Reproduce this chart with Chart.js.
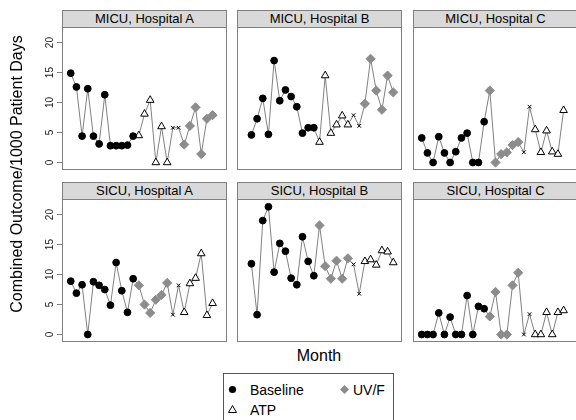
<!DOCTYPE html>
<html>
<head>
<meta charset="utf-8">
<script src="https://cdn.jsdelivr.net/npm/chart.js@4.4.1/dist/chart.umd.min.js"></script>
<style>
html,body{margin:0;padding:0;background:#fff;width:576px;height:420px;overflow:hidden;font-family:"Liberation Sans",Arial,sans-serif;}
.abs{position:absolute;}
.strip{position:absolute;background:#d9d9d9;border:1px solid #7f7f7f;box-sizing:border-box;text-align:center;font-size:13px;line-height:16px;color:#000;white-space:nowrap;}
.lbl{position:absolute;font-size:14px;line-height:16px;color:#000;white-space:nowrap;}
</style>
</head>
<body>
<script>
// ---- data ----
const monthsAC = [1,2,3,4,5,6,7,8,9,10,11,12,13,14,15,16,17,18,19,20,21,22,23,24,25,26];
const monthsB  = [2,3,4,5,6,7,8,9,10,11,12,13,14,15,16,17,18,19,20,21,22,23,24,25,26,27];
const phaseSizes = [12, 6, 2, 6];
const yTicks = [0, 5, 10, 15, 20];

const micuA = [14.9,12.6,4.4,12.3,4.4,3.1,11.3,2.8,2.8,2.8,2.9,4.4, 4.5,8.1,10.4,0,6.0,0, 5.8,5.8, 3.0,6.1,9.2,1.4,7.3,7.9];
const micuB = [4.6,7.3,10.7,4.7,17.0,10.3,12.1,11.0,9.3,4.9,5.8,5.8, 3.4,14.5,4.9,6.3,7.8,6.3, 7.9,6.1, 9.8,17.3,12.0,8.8,14.5,11.7];
const micuC = [4.1,1.6,0,4.3,1.6,0,1.8,4.1,4.9,0,0,6.8, 12.0,0,1.4,1.7,2.9,3.4, 1.7,9.3, 5.5,1.7,5.3,1.8,1.4,8.7];
const sicuA = [8.9,6.9,8.3,0,8.8,8.2,7.5,4.9,12.0,7.3,3.7,9.3, 8.2,5.0,3.6,5.8,6.6,8.6, 3.3,8.2, 3.7,8.5,9.4,13.5,3.2,5.2];
const sicuB = [11.8,3.3,19.0,21.3,10.4,15.2,13.9,9.4,8.3,16.3,12.2,9.8, 18.2,11.4,9.3,12.3,9.3,12.7, 11.7,6.8, 12.2,12.5,11.6,14.0,13.8,12.0];
const sicuC = [0,0,0,3.6,0,2.9,0,0,6.5,0,4.7,4.3, 3.0,7.1,0,0,8.2,10.3, 0,3.4, 0,0,3.7,0,3.7,4.0];

const orderATPfirst = ['Baseline','ATP','Washout','UV/F'];
const orderUVfirst  = ['Baseline','UV/F','Washout','ATP'];

const panels = [
  {title:'MICU, Hospital A', values:micuA, months:monthsAC, order:orderATPfirst, col:0, row:0},
  {title:'MICU, Hospital B', values:micuB, months:monthsB,  order:orderATPfirst, col:1, row:0},
  {title:'MICU, Hospital C', values:micuC, months:monthsAC, order:orderUVfirst,  col:2, row:0},
  {title:'SICU, Hospital A', values:sicuA, months:monthsAC, order:orderUVfirst,  col:0, row:1},
  {title:'SICU, Hospital B', values:sicuB, months:monthsB,  order:orderUVfirst,  col:1, row:1},
  {title:'SICU, Hospital C', values:sicuC, months:monthsAC, order:orderUVfirst,  col:2, row:1}
];

// ---- styling / layout ----
const colLeft = [62, 237, 413];
const panelW = 165;
const rowPlotTop = [27, 199];
const rowStripTop = [10, 182];
const plotH = 143;
const axisW = 40;
const xMin = -0.54, xMax = 28.54;
const yMin = -1.25, yMax = 22.6;

const phaseStyle = {
  'Baseline': {pointStyle:'circle', radius:3.4, bg:'#000', border:'#000', bw:1},
  'ATP':      {pointStyle:'triangle', radius:4.4, bg:'#fff', border:'#000', bw:1},
  'UV/F':     {pointStyle:'rectRot', radius:4.6, bg:'#8c8c8c', border:'#8c8c8c', bw:1},
  'Washout':  {pointStyle:'crossRot', radius:2.6, bg:'#000', border:'#000', bw:1}
};

Chart.defaults.font.family = '"Liberation Sans", Arial, sans-serif';
Chart.defaults.color = '#000';

const framePlugin = {
  id:'frame',
  afterDraw(chart){
    const {ctx, chartArea:a} = chart;
    ctx.save();
    ctx.strokeStyle = '#808080';
    ctx.lineWidth = 1;
    ctx.strokeRect(a.left+0.5, a.top+0.5, a.right-a.left-1, a.bottom-a.top-1);
    // rotated y tick labels (left column only)
    const ys = chart.scales.y;
    if (chart.options.scales.y.display) {
      ctx.fillStyle = '#222';
      ctx.font = '10px "Liberation Sans", Arial, sans-serif';
      ctx.textAlign = 'center';
      ctx.textBaseline = 'middle';
      ys.ticks.forEach(t => {
        const py = ys.getPixelForValue(t.value);
        ctx.save();
        ctx.translate(a.left - 11.5, py);
        ctx.rotate(-Math.PI / 2);
        ctx.fillText(String(t.value), 0, 0);
        ctx.restore();
      });
    }
    ctx.restore();
  }
};

panels.forEach(p => {
  const isLeft = p.col === 0;
  // strip
  const strip = document.createElement('div');
  strip.className = 'strip';
  strip.style.left = colLeft[p.col] + 'px';
  strip.style.top = rowStripTop[p.row] + 'px';
  strip.style.width = panelW + 'px';
  strip.style.height = (rowPlotTop[p.row] - rowStripTop[p.row] + 1) + 'px';
  strip.textContent = p.title;
  document.body.appendChild(strip);

  const cv = document.createElement('canvas');
  const w = panelW + (isLeft ? axisW : 0);
  cv.width = w; cv.height = plotH;
  cv.className = 'abs';
  cv.style.left = (colLeft[p.col] - (isLeft ? axisW : 0)) + 'px';
  cv.style.top = rowPlotTop[p.row] + 'px';
  cv.style.width = w + 'px'; cv.style.height = plotH + 'px';
  document.body.appendChild(cv);

  const datasets = [];
  let start = 0;
  p.order.forEach((ph, k) => {
    const n = phaseSizes[k];
    const st = phaseStyle[ph];
    const pts = [];
    for (let i = start; i < start + n; i++) pts.push({x:p.months[i], y:p.values[i]});
    start += n;
    datasets.push({
      label: ph, data: pts, showLine:false, order:0,
      pointStyle: st.pointStyle, pointRadius: st.radius,
      pointBackgroundColor: st.bg, pointBorderColor: st.border, pointBorderWidth: st.bw
    });
  });
  datasets.push({
    label:'line', data: p.values.map((v,i)=>({x:p.months[i], y:v})),
    showLine:true, pointRadius:0, borderColor:'#808080', borderWidth:1, order:5, tension:0
  });

  new Chart(cv, {
    type:'scatter',
    data:{datasets},
    options:{
      responsive:false, animation:false, devicePixelRatio:1,
      layout:{padding:0, autoPadding:false},
      plugins:{legend:{display:false}, tooltip:{enabled:false}},
      scales:{
        x:{type:'linear', min:xMin, max:xMax, display:false},
        y:{type:'linear', min:yMin, max:yMax, display:isLeft, position:'left',
           afterBuildTicks: s => { s.ticks = yTicks.map(v => ({value:v})); },
           afterFit: s => { if (isLeft) { s.width = axisW; } s.paddingTop = 0; s.paddingBottom = 0; },
           grid:{display:true, drawOnChartArea:false, drawTicks:true, tickLength:5, color:'#808080'},
           border:{display:false},
           ticks:{display:false, autoSkip:false}
        }
      }
    },
    plugins:[framePlugin]
  });
});

// axis titles
const yt = document.createElement('div');
yt.style.cssText = 'position:absolute;left:-153px;top:164px;width:340px;height:20px;line-height:20px;text-align:center;font-size:16px;color:#000;transform:rotate(-90deg);white-space:nowrap;';
yt.textContent = 'Combined Outcome/1000 Patient Days';
document.body.appendChild(yt);

const xt = document.createElement('div');
xt.style.cssText = 'position:absolute;left:219px;top:346px;width:200px;height:20px;line-height:20px;text-align:center;font-size:16px;color:#000;white-space:nowrap;';
xt.textContent = 'Month';
document.body.appendChild(xt);

// legend
const lg = document.createElement('div');
lg.style.cssText = 'position:absolute;left:223px;top:373px;width:171px;height:60px;border:1px solid #555;box-sizing:border-box;';
lg.innerHTML =
  '<svg style="position:absolute;left:0;top:0" width="170" height="60">' +
  '<circle cx="8.5" cy="15.5" r="3.6" fill="#000"/>' +
  '<path d="M120.5 11 L125 15.5 L120.5 20 L116 15.5 Z" fill="#8c8c8c"/>' +
  '<path d="M8.5 31.5 L12.5 38.5 L4.5 38.5 Z" fill="#fff" stroke="#000" stroke-width="1"/>' +
  '</svg>' +
  '<div class="lbl" style="left:26px;top:8px">Baseline</div>' +
  '<div class="lbl" style="left:129px;top:8px">UV/F</div>' +
  '<div class="lbl" style="left:26px;top:28px">ATP</div>';
document.body.appendChild(lg);
</script>
</body>
</html>
